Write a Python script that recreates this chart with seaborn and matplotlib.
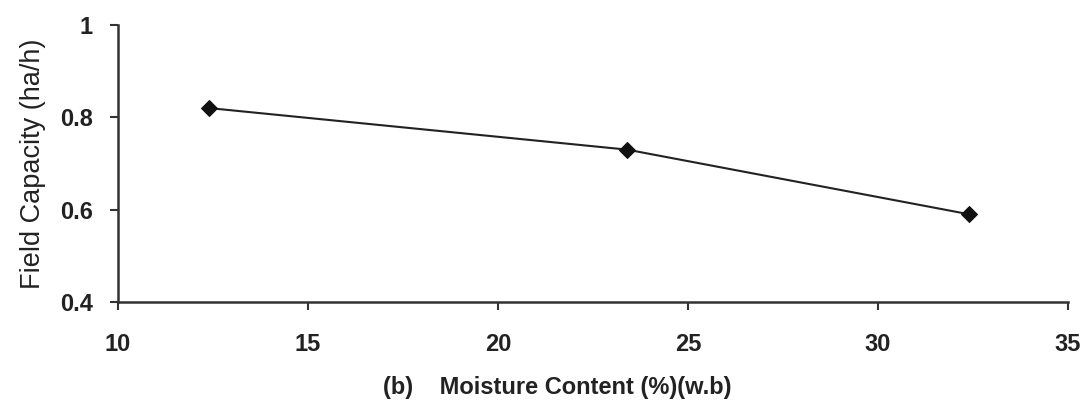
import matplotlib
matplotlib.use("Agg")
import matplotlib.pyplot as plt
import seaborn as sns
import pandas as pd

# Field capacity of the machine at different crop moisture levels
moisture = [12.4, 23.4, 32.4]
field_capacity = [0.82, 0.73, 0.59]
x_ticks = [10, 15, 20, 25, 30, 35]
y_ticks = [0.4, 0.6, 0.8, 1.0]
y_tick_labels = ["0.4", "0.6", "0.8", "1"]

sns.set_theme(style="ticks")
plt.rcParams["font.family"] = ["Liberation Sans", "DejaVu Sans"]

df = pd.DataFrame({"moisture": moisture, "capacity": field_capacity})

fig = plt.figure(figsize=(10.86, 4.07), dpi=100)
ax = fig.add_axes([0.1087, 0.258, 0.8747, 0.6806])

sns.lineplot(data=df, x="moisture", y="capacity", ax=ax, color="#222222",
             linewidth=1.5, marker="D", markersize=8, markeredgecolor="#111111",
             markerfacecolor="#111111")

ax.set_xlim(10, 35)
ax.set_ylim(0.4, 1.0)
ax.set_xticks(x_ticks)
ax.set_xticklabels([str(t) for t in x_ticks], fontsize=17, fontweight="bold", color="#222222")
ax.set_yticks(y_ticks)
ax.set_yticklabels(y_tick_labels, fontsize=17, fontweight="bold", color="#222222")
ax.tick_params(axis="both", direction="out", length=6, width=1.5, color="#333333")
ax.tick_params(axis="x", pad=16)
ax.tick_params(axis="y", pad=12)

ax.set_xlabel("(b)    Moisture Content (%)(w.b)", fontsize=17, fontweight="bold",
              color="#222222")
ax.xaxis.set_label_coords(0.462, -0.266)
ax.set_ylabel("Field Capacity (ha/h)", fontsize=19.5, color="#222222", labelpad=10)

for side in ["top", "right"]:
    ax.spines[side].set_visible(False)
for side in ["left", "bottom"]:
    ax.spines[side].set_linewidth(1.8)
    ax.spines[side].set_color("#333333")

fig.savefig("out.png", dpi=100)
